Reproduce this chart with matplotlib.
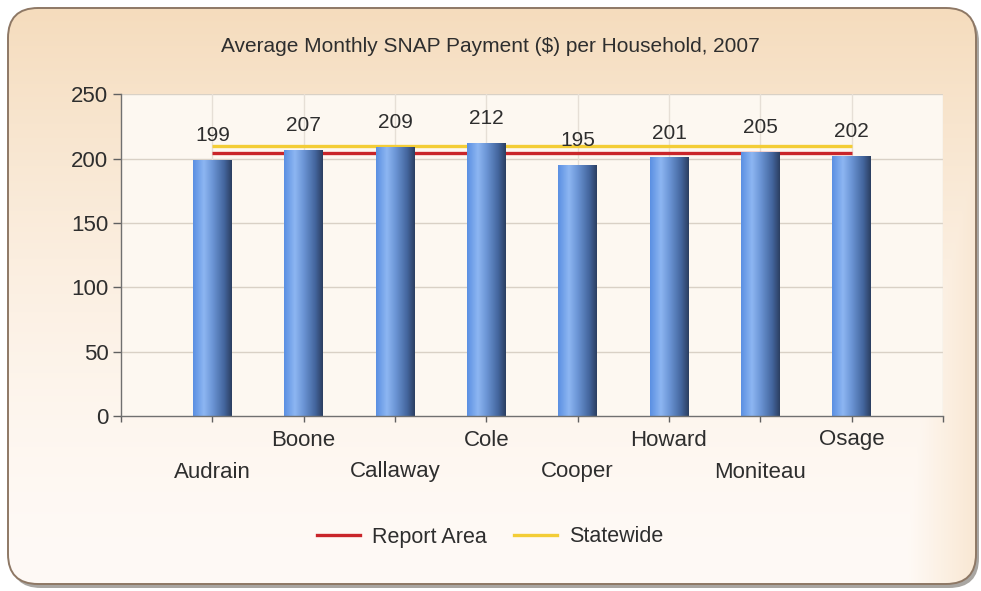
import numpy as np
import matplotlib
matplotlib.use("Agg")
import matplotlib.pyplot as plt
from matplotlib.patches import FancyBboxPatch
from matplotlib.colors import LinearSegmentedColormap, to_rgb
from matplotlib.lines import Line2D

# ---------------- data ----------------
title = "Average Monthly SNAP Payment ($) per Household, 2007"
counties = ["Audrain", "Boone", "Callaway", "Cole", "Cooper", "Howard", "Moniteau", "Osage"]
payments = [199, 207, 209, 212, 195, 201, 205, 202]
report_area = [204, 204, 204, 204, 204, 204, 204, 204]
statewide = [210, 210, 210, 210, 210, 210, 210, 210]
y_ticks = [0, 50, 100, 150, 200, 250]
legend_labels = ["Report Area", "Statewide"]

plt.rcParams['font.family'] = ['Liberation Sans', 'DejaVu Sans']
TXT = '#2e2e2e'

W, H = 981, 591
fig = plt.figure(figsize=(W / 100, H / 100), dpi=100)
fig.patch.set_facecolor('white')

# ---------------- background frame ----------------
bg = fig.add_axes([0, 0, 1, 1], zorder=-10)
bg.set_xlim(0, W)
bg.set_ylim(H, 0)
bg.axis('off')

x0, y0, x1, y1 = 8, 8, 976, 584
shadow = FancyBboxPatch((x0 + 3, y0 + 4), x1 - x0, y1 - y0,
                        boxstyle="round,pad=0,rounding_size=30",
                        fc='#a9a6a2', ec='none', zorder=0)
bg.add_patch(shadow)
frame = FancyBboxPatch((x0, y0), x1 - x0, y1 - y0,
                       boxstyle="round,pad=0,rounding_size=30",
                       fc='none', ec='#8e7865', lw=1.4, zorder=3)
bg.add_patch(frame)
clip = FancyBboxPatch((x0, y0), x1 - x0, y1 - y0,
                      boxstyle="round,pad=0,rounding_size=30",
                      fc='#fdf3ea', ec='none', zorder=1)
bg.add_patch(clip)

peach = np.array(to_rgb('#f5dcbd'))
light = np.array(to_rgb('#fffaf6'))
yy, xx = np.mgrid[0:1:200j, 0:1:300j]
tv = np.clip(1 - yy, 0, 1) ** 1.6
th = np.clip((xx - 0.93) / 0.07, 0, 1) * 0.6
t = np.clip(np.maximum(tv, th), 0, 1)[..., None]
img = light * (1 - t) + peach * t
im = bg.imshow(img, extent=(x0, x1, y1, y0), zorder=2, aspect='auto', interpolation='bilinear')
im.set_clip_path(clip)

# ---------------- main axes ----------------
ax_left, ax_right = 121 / W, 943 / W
ax_bottom, ax_top = 1 - 416 / H, 1 - 94.3 / H
ax = fig.add_axes([ax_left, ax_bottom, ax_right - ax_left, ax_top - ax_bottom])
ax.set_facecolor('#fdf8f1')

n = len(counties)
pos = np.arange(1, n + 1)
ax.set_xlim(0, n + 1)
ax.set_ylim(0, 250)

for s in ['top', 'right']:
    ax.spines[s].set_visible(False)
for s in ['left', 'bottom']:
    ax.spines[s].set_color('#707070')
    ax.spines[s].set_linewidth(1.0)

ax.set_yticks(y_ticks)
ax.set_yticklabels([str(v) for v in y_ticks])
ax.set_xticks(np.arange(0, n + 2))
ax.set_xticklabels([])
ax.tick_params(axis='y', direction='out', length=6, width=1, color='#606060',
               labelsize=16, labelcolor=TXT, pad=3)
ax.tick_params(axis='x', direction='out', length=4.5, width=1, color='#606060')

for v in y_ticks[1:]:
    ax.axhline(v, color='#d9d1c6', lw=1.0, zorder=0.5)
for xv in range(1, n + 2):
    ax.axvline(xv, color='#e6dfd6', lw=1.0, zorder=0.5)

# lines (behind bars)
ax.plot(pos, statewide, color='#f3cd36', lw=2.4, zorder=1, solid_capstyle='butt')
ax.plot(pos, report_area, color='#c9252a', lw=2.4, zorder=1, solid_capstyle='butt')

# bars with cylinder gradient
cyl = LinearSegmentedColormap.from_list('cyl', [
    (0.0, '#5a8fe2'), (0.28, '#8db6f2'), (0.5, '#6c96d6'),
    (0.8, '#44669e'), (1.0, '#2b3e60')])
bars = ax.bar(pos, payments, width=0.42, color='#5a86c8', edgecolor='none', zorder=2)
grad = np.linspace(0, 1, 256)[None, :]
for b in bars:
    bx, by = b.get_x(), b.get_y()
    bw, bh = b.get_width(), b.get_height()
    gi = ax.imshow(grad, cmap=cyl, extent=(bx, bx + bw, by, by + bh),
                   aspect='auto', zorder=2.1, interpolation='bilinear')
    gi.set_clip_path(b)
ax.set_xlim(0, n + 1)
ax.set_ylim(0, 250)

# value labels
for p, v in zip(pos, payments):
    ax.annotate(str(v), (p, v), xytext=(0, 17.5), textcoords='offset points',
                ha='center', va='center', fontsize=15, color=TXT, zorder=5)

# staggered category labels
from matplotlib.transforms import offset_copy
for i, (p, name) in enumerate(zip(pos, counties)):
    dy = -56 if i % 2 == 0 else -24
    tr = offset_copy(ax.get_xaxis_transform(), fig=fig, x=0, y=dy * 0.72, units='points')
    ax.text(p, 0, name, transform=tr, ha='center', va='center', fontsize=16, color=TXT)

# title
fig.text(0.4995, 1 - 47 / H, title, ha='center', va='center', fontsize=15, color=TXT)

# legend
handles = [Line2D([], [], color='#c9252a', lw=2.4),
           Line2D([], [], color='#f3cd36', lw=2.4)]
leg = fig.legend(handles, legend_labels, loc='center', bbox_to_anchor=(0.4995, 1 - 537 / H),
                 ncol=2, frameon=False, fontsize=15.5, handlelength=2.0,
                 handletextpad=0.55, columnspacing=1.3)
for tx in leg.get_texts():
    tx.set_color(TXT)

fig.savefig('out.png', dpi=100, facecolor='white')
